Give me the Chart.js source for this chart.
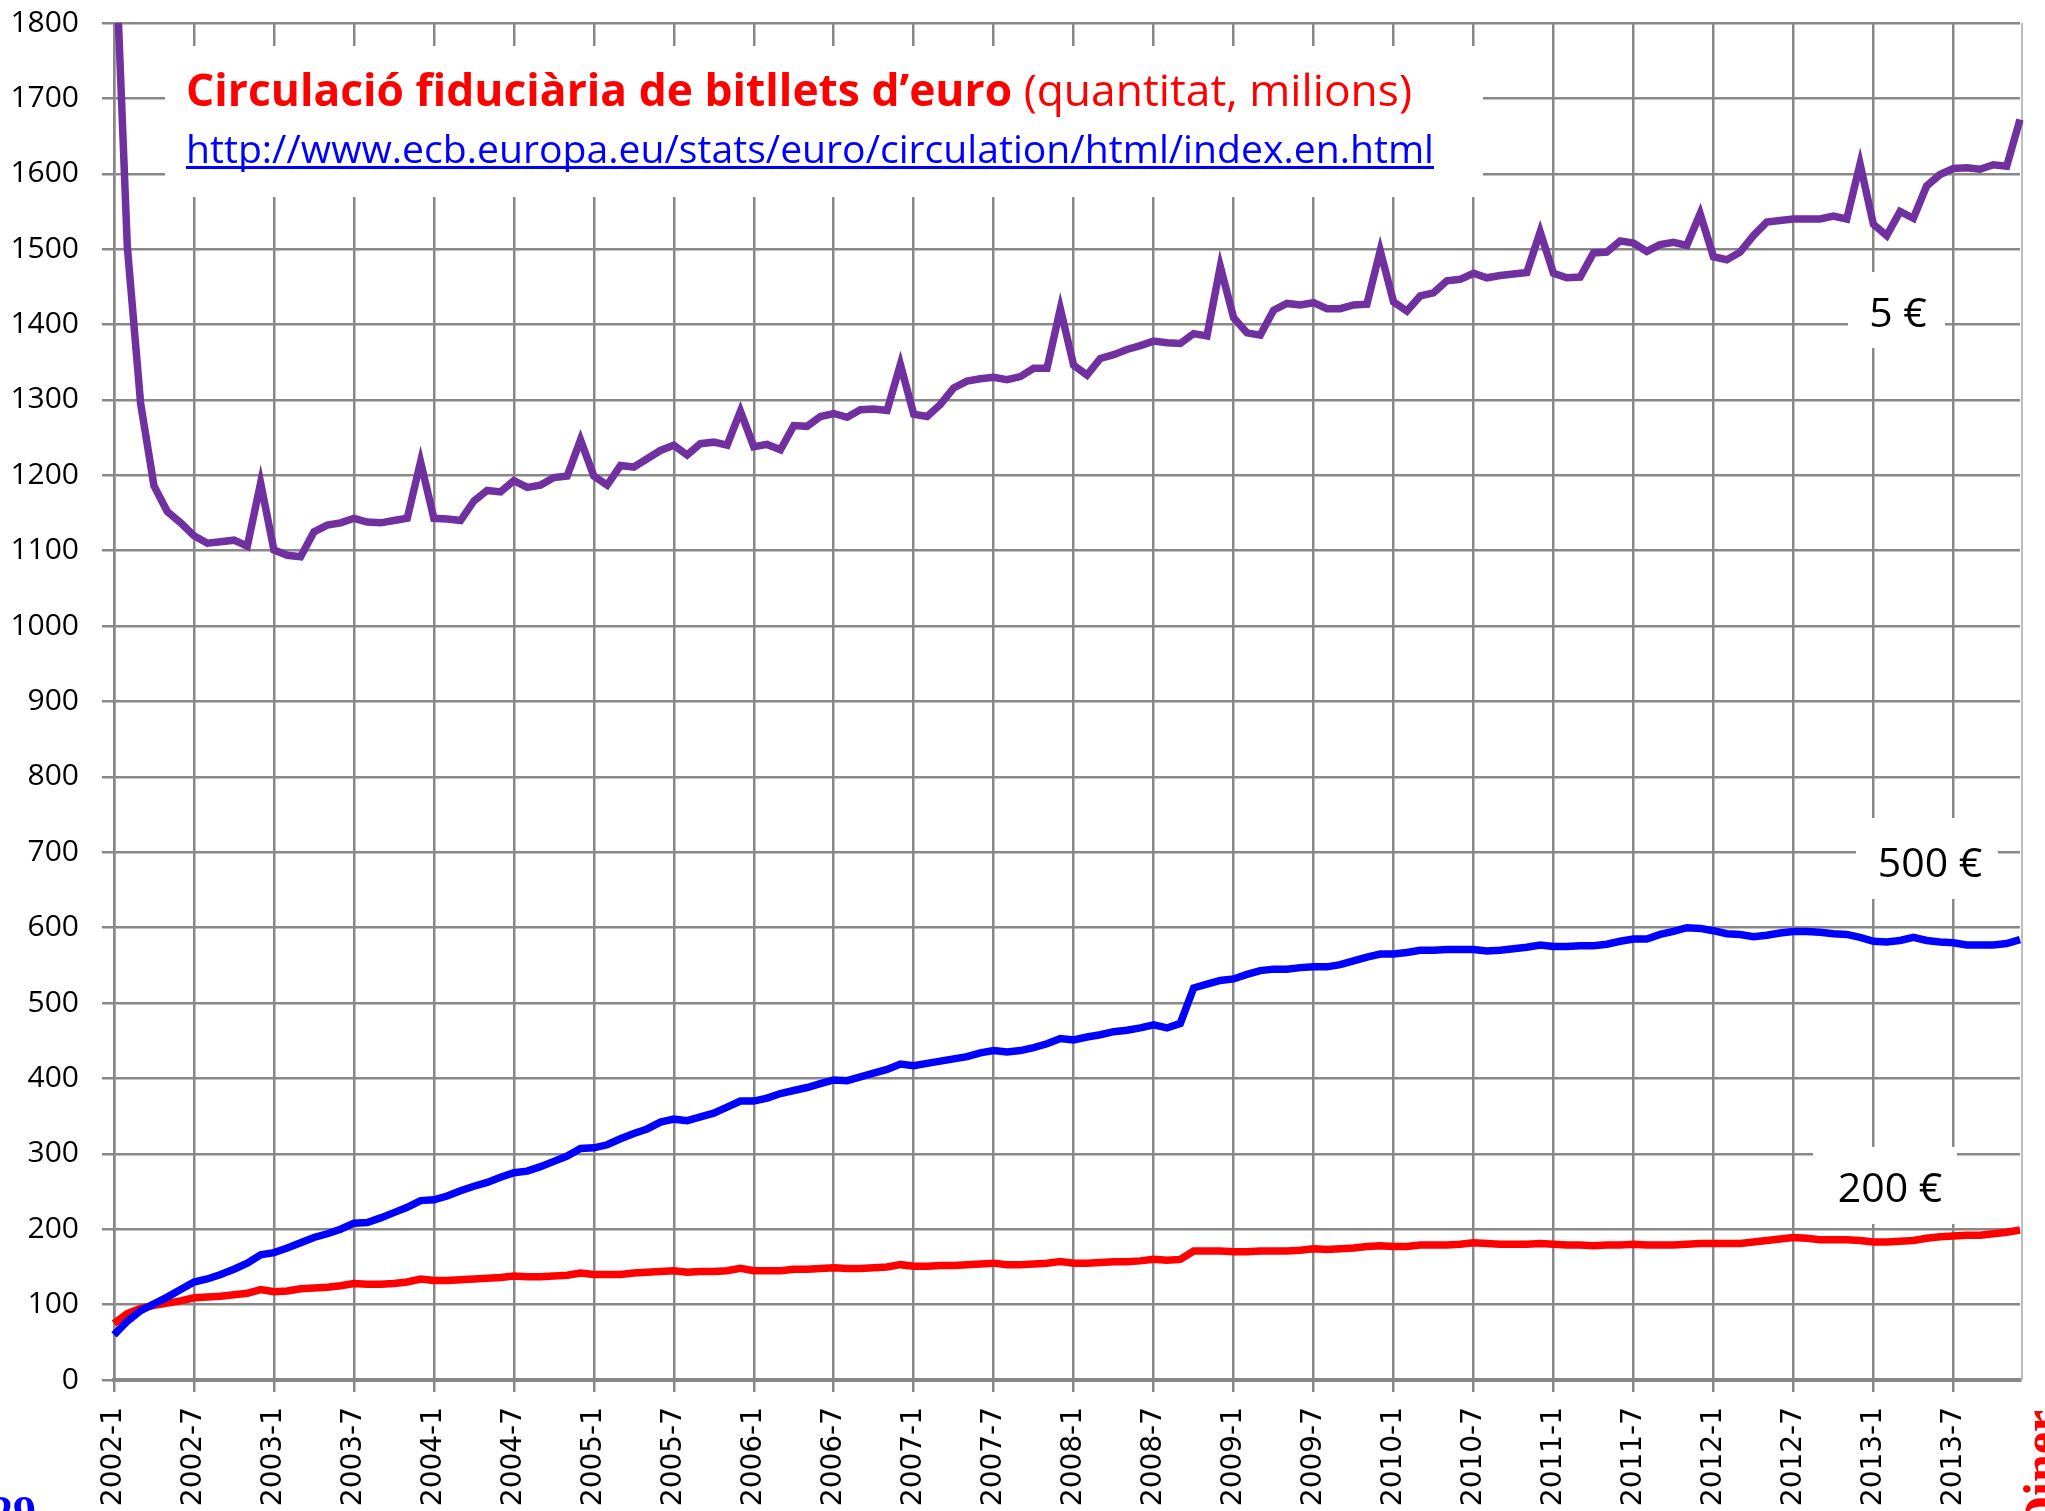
<!DOCTYPE html>
<html>
<head>
<meta charset="utf-8">
<script src="https://cdn.jsdelivr.net/npm/chart.js@4.4.0/dist/chart.umd.min.js"></script>
<style>
  html,body{margin:0;padding:0;background:#fff;}
  #wrap{width:2045px;height:1511px;position:relative;}
</style>
</head>
<body>
<div id="wrap"><canvas id="grafic" width="2045" height="1511"></canvas></div>
<script>
// Dades (milions de bitllets en circulació, final de mes)
const anys=[2002,2003,2004,2005,2006,2007,2008,2009,2010,2011,2012,2013];
const titol="Circulació fiduciària de bitllets d’euro";
const subtitol=" (quantitat, milions)";
const enllac="http://www.ecb.europa.eu/stats/euro/circulation/html/index.en.html";

const bitllets5=[
  1950,1503,1295,1186,1152,1137,1120,1110,1112,1114,1106,1190,
  1101,1094,1092,1125,1134,1137,1143,1138,1137,1140,1143,1218,
  1143,1142,1140,1166,1180,1178,1193,1184,1187,1197,1199,1247,
  1199,1187,1213,1211,1222,1233,1240,1227,1242,1244,1240,1285,
  1238,1241,1234,1266,1265,1278,1282,1277,1287,1288,1286,1347,
  1281,1278,1294,1316,1325,1328,1330,1327,1331,1342,1342,1421,
  1346,1333,1355,1360,1367,1372,1378,1376,1375,1388,1385,1477,
  1409,1389,1386,1419,1428,1426,1429,1421,1421,1426,1427,1498,
  1430,1418,1438,1442,1458,1460,1468,1462,1465,1467,1469,1523,
  1468,1462,1463,1495,1496,1511,1508,1497,1506,1509,1505,1547,
  1490,1486,1496,1518,1536,1538,1540,1540,1540,1544,1540,1613,
  1533,1518,1550,1541,1584,1599,1607,1608,1606,1612,1610,1672
];
const bitllets500=[
  60,78,92,101,110,120,130,134,140,147,155,166,
  169,175,182,189,194,200,208,209,215,222,229,238,
  239,244,251,257,262,269,275,277,283,290,297,307,
  308,312,320,327,333,342,346,344,349,354,362,370,
  370,374,380,384,388,393,398,397,402,407,412,419,
  417,420,423,426,429,434,437,435,437,441,446,453,
  451,455,458,462,464,467,471,467,473,520,525,530,
  532,538,543,545,545,547,548,548,551,556,561,565,
  565,567,570,570,571,571,571,569,570,572,574,577,
  575,575,576,576,578,582,585,585,591,595,600,599,
  596,592,591,588,590,593,595,595,594,592,591,587,
  582,581,583,587,583,581,580,577,577,577,579,584
];
const bitllets200=[
  75,88,95,99,102,105,109,110,111,113,115,120,
  117,118,121,122,123,125,128,127,127,128,130,134,
  132,132,133,134,135,136,138,137,137,138,139,142,
  140,140,140,142,143,144,145,143,144,144,145,148,
  145,145,145,147,147,148,149,148,148,149,150,153,
  151,151,152,152,153,154,155,153,153,154,155,157,
  155,155,156,157,157,158,160,159,160,171,171,171,
  170,170,171,171,171,172,174,173,174,175,177,178,
  177,177,179,179,179,180,182,181,180,180,180,181,
  180,179,179,178,179,179,180,179,179,179,180,181,
  181,181,181,183,185,187,189,188,186,186,186,185,
  183,183,184,185,188,190,191,192,192,194,196,199
];
const etiquetesSeries=["5 €","500 €","200 €"];

const mesos=[];
anys.forEach(a=>{for(let m=1;m<=12;m++){mesos.push(a+"-"+m);}});

// Caixes blanques de text sobre la graella
const caixes=[
  {x:165,y:46,w:1318,h:151},
  {x:1848,y:272,w:97,h:76},
  {x:1856,y:818,w:142,h:81},
  {x:1813,y:1147,w:144,h:77}
];
const rotols=[
  {text:etiquetesSeries[0],x:1898,y:327},
  {text:etiquetesSeries[1],x:1930,y:877},
  {text:etiquetesSeries[2],x:1890,y:1202}
];

const textos={
  id:"textos",
  beforeDatasetsDraw(chart){
    const ctx=chart.ctx;
    const area=chart.chartArea;
    ctx.save();
    // vora dreta
    ctx.strokeStyle="#bdbdbd";
    ctx.lineWidth=2;
    ctx.beginPath();
    ctx.moveTo(area.right+2,area.top);
    ctx.lineTo(area.right+2,area.bottom);
    ctx.stroke();
    ctx.fillStyle="#fff";
    caixes.forEach(c=>ctx.fillRect(c.x,c.y,c.w,c.h));
    ctx.restore();
  },
  afterDraw(chart){
    const ctx=chart.ctx;
    ctx.save();
    ctx.textBaseline="alphabetic";
    // títol
    ctx.font='bold 44px "Open Sans"';
    const w1=ctx.measureText(titol).width;
    ctx.font='44px "Open Sans"';
    const w2=ctx.measureText(subtitol).width;
    const sx=1226/(w1+w2);
    ctx.translate(186,106);
    ctx.scale(sx,1);
    ctx.fillStyle="#ff0000";
    ctx.font='bold 44px "Open Sans"';
    ctx.fillText(titol,0,0);
    ctx.font='44px "Open Sans"';
    ctx.fillText(subtitol,w1,0);
    ctx.restore();

    // enllaç
    ctx.save();
    ctx.font='38px "Open Sans"';
    const w3=ctx.measureText(enllac).width;
    ctx.translate(186,163);
    ctx.scale(1248/w3,1);
    ctx.fillStyle="#0000ff";
    ctx.fillText(enllac,0,0);
    ctx.restore();
    ctx.fillStyle="#0000ff";
    ctx.fillRect(186,166,1248,3);

    // rètols de sèries
    ctx.save();
    ctx.font='41px "Open Sans"';
    ctx.fillStyle="#000";
    ctx.textAlign="center";
    rotols.forEach(r=>ctx.fillText(r.text,r.x,r.y));
    ctx.restore();

    // restes de la diapositiva
    ctx.save();
    ctx.font='bold 46px "Liberation Serif"';
    ctx.fillStyle="#0000ff";
    ctx.fillText("29",-10,1528);
    ctx.restore();
    ctx.save();
    ctx.font='bold 50px "Liberation Serif"';
    ctx.fillStyle="#ff0000";
    ctx.translate(2058,1532);
    ctx.rotate(-Math.PI/2);
    ctx.fillText("Diner",0,0);
    ctx.restore();
  }
};

const grisGraella="#888888";

new Chart(document.getElementById("grafic"),{
  type:"line",
  data:{
    labels:mesos,
    datasets:[
      {label:etiquetesSeries[0],data:bitllets5,borderColor:"#7030a0",borderWidth:7.5,pointRadius:0,tension:0},
      {label:etiquetesSeries[1],data:bitllets500,borderColor:"#0000ff",borderWidth:7.5,pointRadius:0,tension:0},
      {label:etiquetesSeries[2],data:bitllets200,borderColor:"#ff0000",borderWidth:7.5,pointRadius:0,tension:0}
    ]
  },
  options:{
    responsive:false,
    animation:false,
    devicePixelRatio:1,
    layout:{padding:{top:23,right:25,left:0,bottom:0}},
    plugins:{legend:{display:false},tooltip:{enabled:false},title:{display:false}},
    scales:{
      x:{
        offset:false,
        grid:{color:grisGraella,lineWidth:2.5,tickLength:12,drawTicks:true},
        border:{color:grisGraella,width:4},
        ticks:{
          autoSkip:false,maxRotation:90,minRotation:90,padding:15,
          color:"#000",font:{family:"DejaVu Sans",size:28},
          callback:function(v,i){return i%6===0?this.getLabelForValue(v):null;}
        },
        afterFit(s){s.height=131;s.paddingLeft=0;s.paddingRight=0;}
      },
      y:{
        min:0,max:1800,
        grid:{color:grisGraella,lineWidth:2.5,tickLength:12},
        border:{color:grisGraella,width:2.5},
        ticks:{
          stepSize:100,padding:23,color:"#000",font:{family:"Open Sans",size:30},
          callback:v=>String(v)
        },
        afterFit(s){s.width=114;s.paddingTop=0;s.paddingBottom=0;}
      }
    }
  },
  plugins:[textos]
});
</script>
</body>
</html>
